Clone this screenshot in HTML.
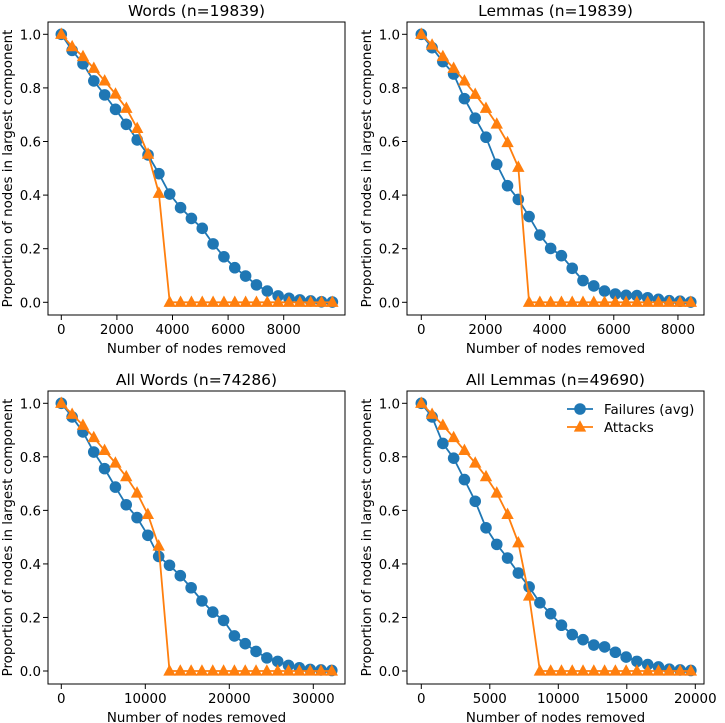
<!DOCTYPE html>
<html><head><meta charset="utf-8">
<style>
html,body{margin:0;padding:0;background:#fff;}
svg{display:block;font-family:"DejaVu Sans","Liberation Sans",sans-serif;}
</style></head>
<body>
<svg id="fig" width="725" height="723" viewBox="0 0 725 723" xmlns="http://www.w3.org/2000/svg"></svg>
<script>
// ---- data ----
const panelTitles = ["Words (n=19839)", "Lemmas (n=19839)", "All Words (n=74286)", "All Lemmas (n=49690)"];
const xSteps = [390, 336, 1288, 787];
const failuresWords = [1,.94,.89,.826,.774,.72,.664,.606,.55,.48,.404,.353,.313,.276,.218,.17,.129,.098,.065,.042,.024,.015,.009,.005,.002,.001];
const attacksWords = [1,.954,.917,.873,.826,.777,.724,.649,.553,.407,0,0,0,0,0,0,0,0,0,0,0,0,0,0,0,0];
const failuresLemmas = [1,.95,.898,.852,.76,.687,.616,.515,.435,.384,.32,.251,.201,.174,.127,.081,.061,.042,.031,.026,.025,.017,.011,.006,.004,.001];
const attacksLemmas = [1,.96,.917,.873,.826,.776,.724,.665,.596,.504,0,0,0,0,0,0,0,0,0,0,0,0,0,0,0,0];
const failuresAllWords = [1,.949,.893,.818,.756,.687,.621,.573,.507,.428,.395,.356,.311,.262,.22,.189,.131,.102,.073,.049,.036,.021,.012,.006,.004,.002];
const attacksAllWords = [1,.959,.918,.872,.824,.777,.726,.665,.585,.467,0,0,0,0,0,0,0,0,0,0,0,0,0,0,0,0];
const failuresAllLemmas = [1,.949,.85,.795,.715,.634,.535,.473,.422,.366,.314,.255,.214,.171,.136,.117,.097,.09,.07,.052,.036,.024,.015,.007,.004,.002];
const attacksAllLemmas = [1,.959,.918,.872,.824,.777,.726,.665,.585,.479,.28,0,0,0,0,0,0,0,0,0,0,0,0,0,0,0];
const xTicksTop = [0,2000,4000,6000,8000];
const xTicksAllWords = [0,10000,20000,30000];
const xTicksAllLemmas = [0,5000,10000,15000,20000];
const yTicks = [0,0.2,0.4,0.6,0.8,1.0];

// ---- layout ----
const NS = "http://www.w3.org/2000/svg";
const svg = document.getElementById('fig');
function mk(tag, attrs, parent){const e=document.createElementNS(NS,tag);for(const k in attrs)e.setAttribute(k,attrs[k]);(parent||svg).appendChild(e);return e;}
const FS = 13.4;
const panels = [
  {fail:failuresWords, att:attacksWords, ticks:xTicksTop, fx:[48,345], fy:[22,315], x0:61.3, ppk:27.8, y1:34.3, y0:302.3, name:'words'},
  {fail:failuresLemmas, att:attacksLemmas, ticks:xTicksTop, fx:[407,704], fy:[22,315], x0:421.3, ppk:32.08, y1:34.3, y0:302.3, name:'lemmas'},
  {fail:failuresAllWords, att:attacksAllWords, ticks:xTicksAllWords, fx:[48,345], fy:[391,684], x0:61.3, ppk:8.4, y1:403.3, y0:671, name:'all-words'},
  {fail:failuresAllLemmas, att:attacksAllLemmas, ticks:xTicksAllLemmas, fx:[407,704], fy:[391,684], x0:421.3, ppk:13.7, y1:403.3, y0:671, name:'all-lemmas'}
];
panels.forEach((p,pi)=>{
  const X = v => p.x0 + v/1000*p.ppk;
  const Y = v => p.y0 + (p.y1-p.y0)*v;
  const g = mk('g',{});
  
  
  const cx=(p.fx[0]+p.fx[1])/2;
  const t=mk('text',{x:cx,y:p.fy[0]-6,'text-anchor':'middle','font-size':'15.5',fill:'#000'},g);
  t.textContent=panelTitles[pi];
  
  
  p.ticks.forEach(v=>{
    const x=X(v);
    const tk=mk('line',{x1:x,x2:x,y1:p.fy[1],y2:p.fy[1]+5,stroke:'#000','stroke-width':1},g);
    
    
    const tl=mk('text',{x:x,y:p.fy[1]+19,'text-anchor':'middle','font-size':FS},g);
    tl.textContent=String(v);
    
    
  });
  yTicks.forEach(v=>{
    const y=Y(v);
    const tk=mk('line',{x1:p.fx[0]-5,x2:p.fx[0],y1:y,y2:y,stroke:'#000','stroke-width':1},g);
    
    
    const tl=mk('text',{x:p.fx[0]-7,y:y+5,'text-anchor':'end','font-size':FS},g);
    tl.textContent=v.toFixed(1);
    
    
  });
  const xl=mk('text',{x:cx,y:p.fy[1]+38,'text-anchor':'middle','font-size':FS},g);
  xl.textContent='Number of nodes removed';
  
  
  const yc=(p.fy[0]+p.fy[1])/2, yx=p.fx[0]-36;
  const yl=mk('text',{x:yx,y:yc,'text-anchor':'middle','font-size':FS,transform:`rotate(-90 ${yx} ${yc})`},g);
  yl.textContent='Proportion of nodes in largest component';
  
  
  const step=xSteps[pi];
  [[p.fail,'#1f77b4','circle','failures'],[p.att,'#ff7f0e','tri','attacks']].forEach(([arr,col,shape,nm])=>{
    const pts=arr.map((v,i)=>[X(i*step),Y(v)]);
    const ln=mk('polyline',{points:pts.map(q=>q.join(',')).join(' '),fill:'none',stroke:col,'stroke-width':1.8},g);
    
    
    pts.forEach(([x,y])=>{
      let m;
      if(shape==='circle') m=mk('circle',{cx:x,cy:y,r:5.8,fill:col},g);
      else m=mk('polygon',{points:`${x},${y-6.8} ${x-6.2},${y+4.6} ${x+6.2},${y+4.6}`,fill:col},g);
      
      
    });
  });
  const fr=mk('rect',{x:p.fx[0],y:p.fy[0],width:p.fx[1]-p.fx[0],height:p.fy[1]-p.fy[0],fill:'none',stroke:'#000','stroke-width':1},g);
  
  
});
const lg=mk('g',{});


[['Failures (avg)','#1f77b4','circle',409],['Attacks','#ff7f0e','tri',427]].forEach(([lab,col,shape,y])=>{
  const e=mk('g',{},lg);
  
  
  mk('line',{x1:567,x2:593,y1:y,y2:y,stroke:col,'stroke-width':1.8},e);
  if(shape==='circle') mk('circle',{cx:580,cy:y,r:5.8,fill:col},e);
  else mk('polygon',{points:`580,${y-6.8} 573.8,${y+4.6} 586.2,${y+4.6}`,fill:col},e);
  const t=mk('text',{x:604,y:y+5,'font-size':FS},e);
  t.textContent=lab;
});
</script>
</body></html>
